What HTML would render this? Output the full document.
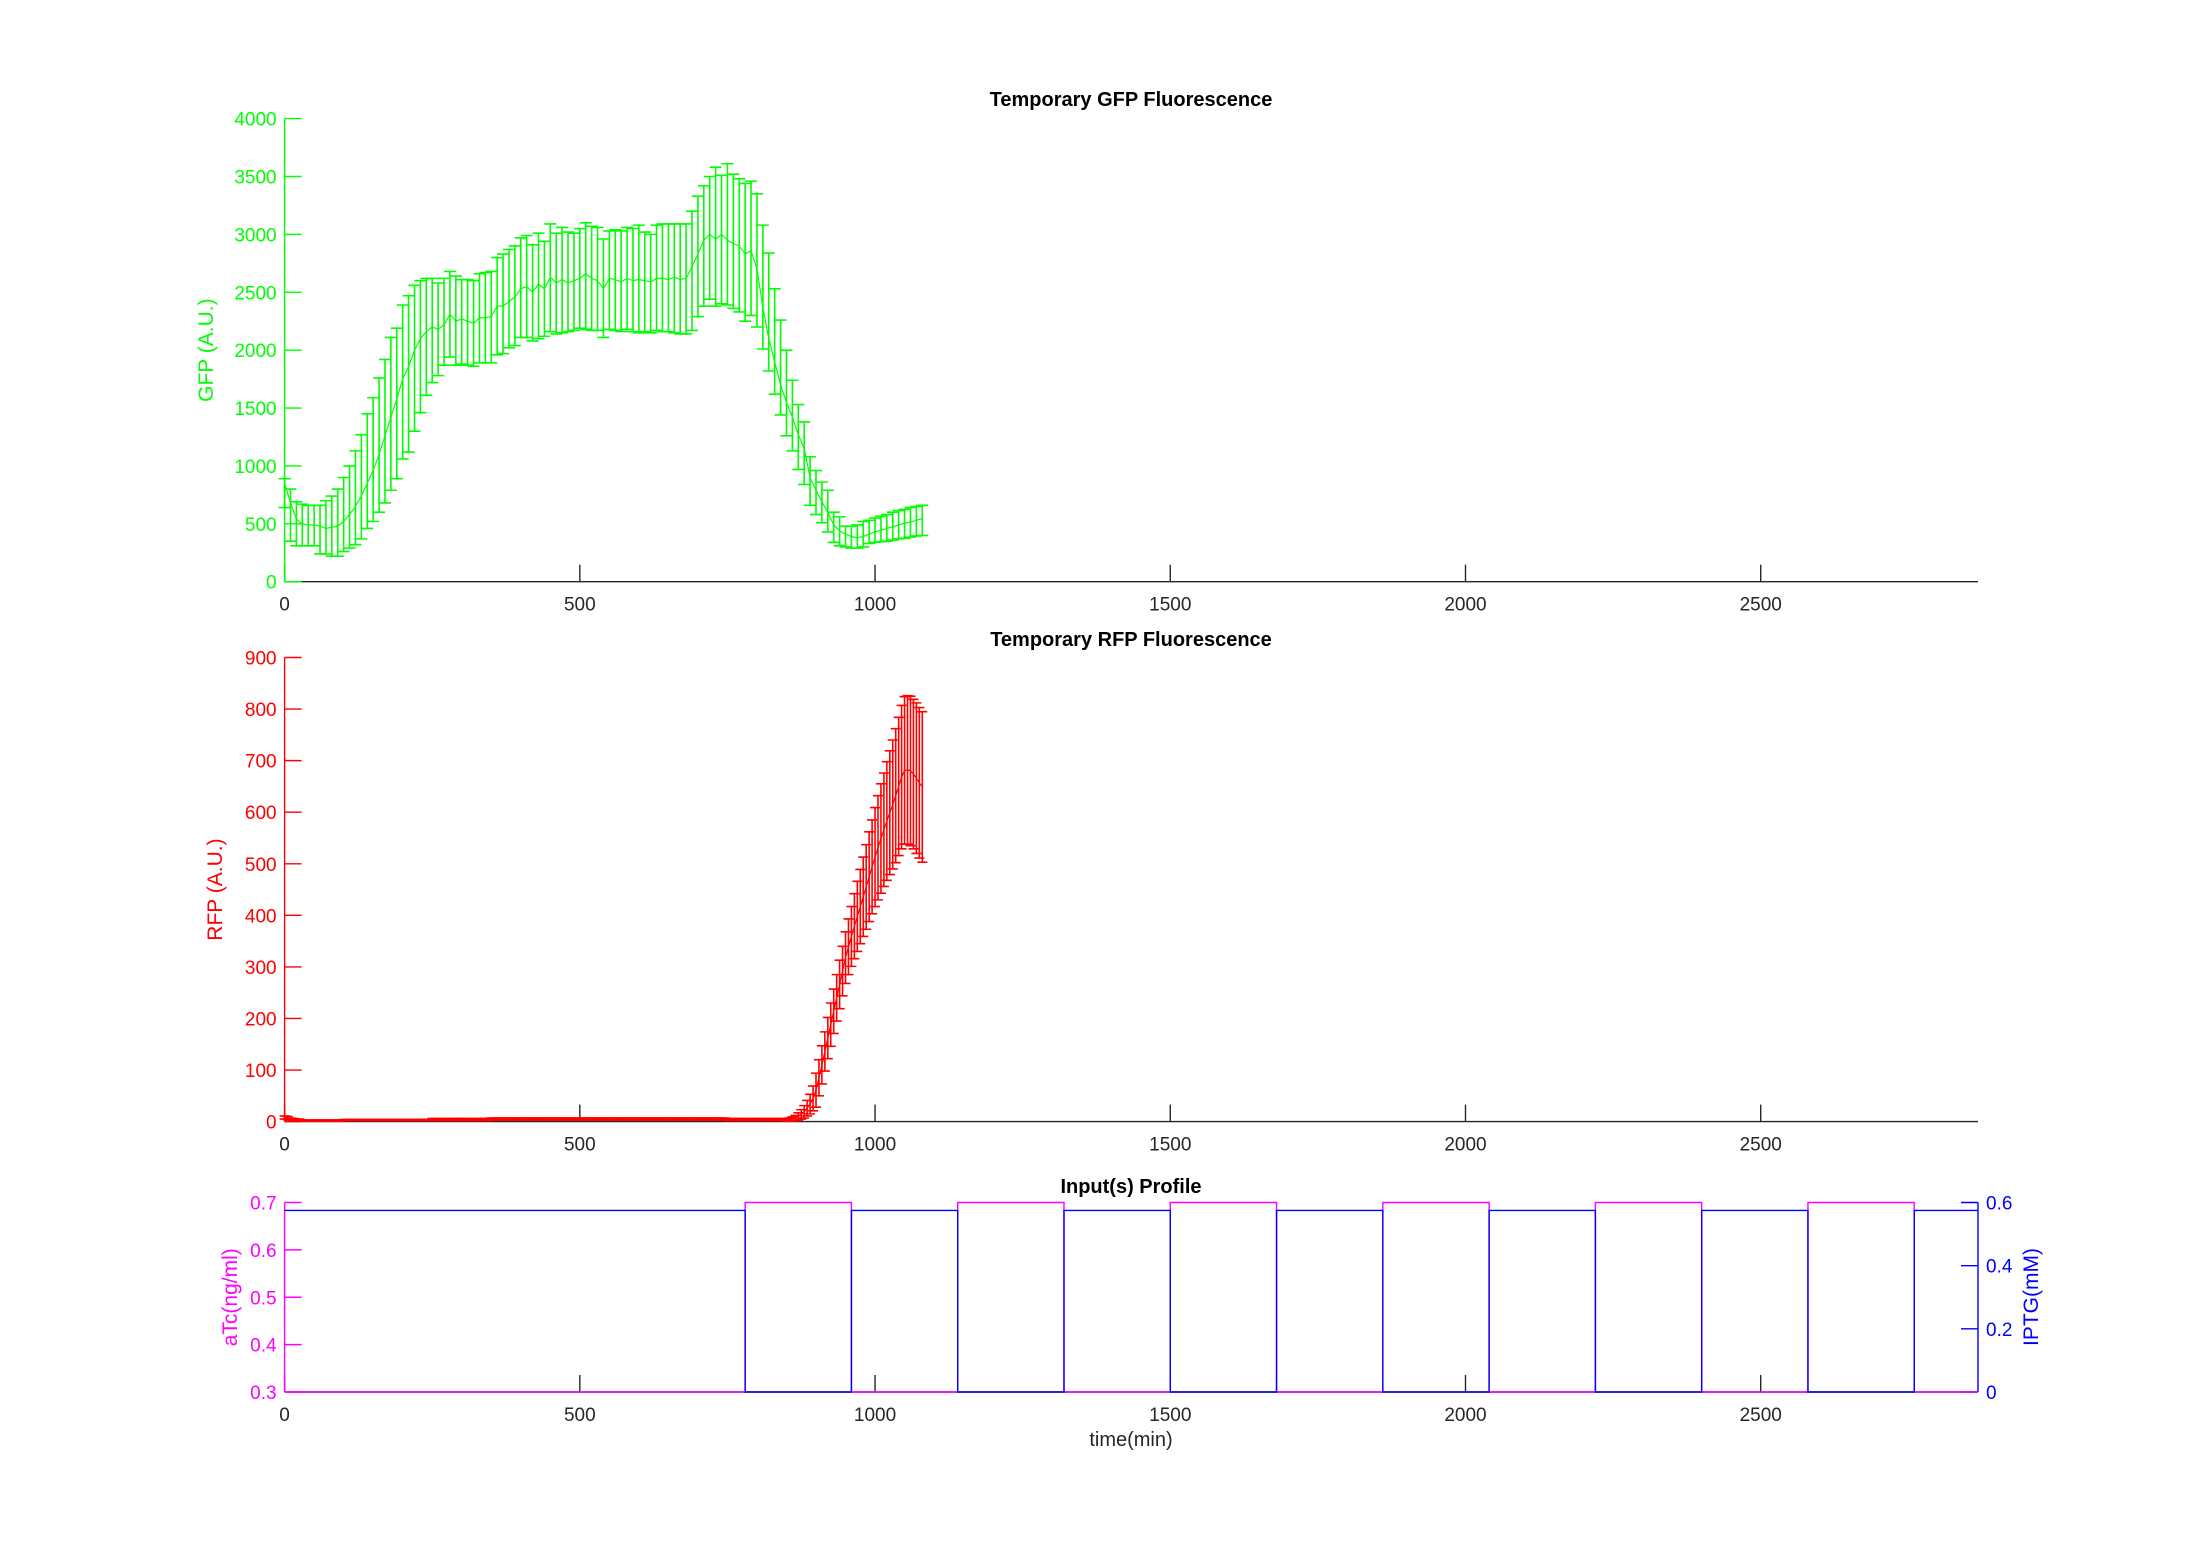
<!DOCTYPE html>
<html><head><meta charset="utf-8"><style>
html,body{margin:0;padding:0;background:#fff;}
svg{display:block;font-family:"Liberation Sans",Arial,sans-serif;}
</style></head><body>
<svg id="fig" width="2187" height="1563" viewBox="0 0 2187 1563" xmlns="http://www.w3.org/2000/svg">
<rect x="0" y="0" width="2187" height="1563" fill="#fff"/>
</svg>
<script>
const xTicks=[0,500,1000,1500,2000,2500];
const gfpYTicks=[0,500,1000,1500,2000,2500,3000,3500,4000];
const rfpYTicks=[0,100,200,300,400,500,600,700,800,900];
const atcTicks=[0.3,0.4,0.5,0.6,0.7];
const iptgTicks=[0,0.2,0.4,0.6];
const gfpStep=10;
const gfpMean=[850,680,540,500,490,490,480,460,470,480,520,580,650,740,850,960,1100,1260,1420,1580,1750,1860,2000,2100,2160,2200,2180,2220,2310,2250,2270,2250,2230,2280,2280,2290,2380,2380,2420,2460,2530,2550,2500,2570,2530,2630,2580,2610,2580,2600,2620,2660,2620,2600,2530,2620,
2610,2590,2620,2600,2610,
2600,2590,2620,2620,2610,2630,2610,2620,2720,2830,2950,3000,2960,3000,2950,2920,2900,2830,2860,2700,2370,2100,1900,1700,1550,1420,1270,1150,
900,790,690,600,
490,440,410,390,380,
390,410,430,445,460,475,490,505,515,530,545];
const gfpUpper=[890,800,690,670,660,660,660,700,740,800,900,1000,1130,1270,1450,1590,1760,1920,2110,2190,2390,2470,2560,2600,2620,2620,2580,2620,2680,2640,2610,2610,2600,2660,2670,2680,2800,2830,2870,2900,2970,2990,2910,3010,2940,3090,3010,3060,3020,3010,3050,3100,3070,3060,2960,3030,
3040,3030,3060,3050,3080,
3020,3000,3080,3090,3090,3090,3090,3090,3200,3330,3420,3500,3580,3510,3610,3520,3480,3440,3460,3350,3080,2840,2530,2260,2000,1740,1530,1380,
1080,960,860,790,
600,560,480,480,490,
520,530,550,565,580,600,615,625,640,650,660];
const gfpLower=[640,350,310,310,310,310,240,240,220,220,260,290,320,370,460,520,600,680,790,890,1060,1120,1300,1460,1610,1720,1780,1870,1940,1870,1880,1870,1860,1890,1890,1890,1960,1970,2020,2040,2110,2110,2080,2100,2120,2160,2140,2150,2160,2170,2190,2180,2170,2170,2110,2180,
2170,2160,2180,2160,2150,
2160,2150,2170,2160,2160,2150,2140,2140,2170,2290,2380,2440,2380,2400,2390,2360,2330,2250,2300,2200,2010,1820,1620,1440,1260,1130,970,840,
660,580,510,430,
340,310,300,290,290,
300,330,340,345,350,360,370,375,385,395,400];
const rfpStep=5;
const rfpMean=[8,7,5,4,3,3,2,2,2,2,2,2,2,2,2,2,2,2,2,2,3,3,3,3,3,3,3,3,3,3,3,3,3,3,3,3,3,3,3,3,3,3,3,3,3,3,3,3,3,3,4,4,4,4,4,4,4,4,4,4,4,4,4,4,4,4,4,4,4,4,5,5,5,5,5,5,5,5,5,5,5,5,5,5,5,5,5,5,5,5,5,5,5,5,5,5,5,5,5,5,5,5,5,5,5,5,5,5,5,5,5,5,5,5,5,5,5,5,5,5,5,5,5,5,5,5,5,5,5,5,5,5,5,5,5,5,5,5,5,5,5,5,5,5,5,5,5,5,5,5,4,4,4,4,4,4,4,4,4,4,4,4,4,4,4,4,4,4,4,4,
3,4,5,7,10,14,19,26,34,45,61,85,110,136,162,188,214,240,266,292,318,339,359,379,398,417,436,455,475,494,513,531,549,566,583,599,615,632,650,668,681,682,680,674,666,657,649];
const rfpErr=[3,3,2,2,2,2,1,1,1,1,1,1,1,1,1,1,1,1,1,1,1,1,1,1,1,1,1,1,1,1,1,1,1,1,1,1,1,1,1,1,1,1,1,1,1,1,1,1,1,1,2,2,2,2,2,2,2,2,2,2,2,2,2,2,2,2,2,2,2,2,2,2,2,2,2,2,2,2,2,2,2,2,2,2,2,2,2,2,2,2,2,2,2,2,2,2,2,2,2,2,2,2,2,2,2,2,2,2,2,2,2,2,2,2,2,2,2,2,2,2,2,2,2,2,2,2,2,2,2,2,2,2,2,2,2,2,2,2,2,2,2,2,2,2,2,2,2,2,2,2,2,2,2,2,2,2,2,2,2,2,2,2,2,2,2,2,2,2,2,2,
2,3,4,5,7,9,12,15,19,24,33,35,37,38,40,42,43,45,47,48,50,54,58,63,68,72,77,82,87,91,96,101,106,110,115,120,125,130,134,139,143,144,145,145,146,146,146];
const switchTimes=[0,780,960,1140,1320,1500,1680,1860,2040,2220,2400,2580,2760,2868];
const atcLevels=[0.3,0.7,0.3,0.7,0.3,0.7,0.3,0.7,0.3,0.7,0.3,0.7,0.3];
const iptgLevels=[0.575,0,0.575,0,0.575,0,0.575,0,0.575,0,0.575,0,0.575];

const NS="http://www.w3.org/2000/svg";
const svg=document.getElementById('fig');
function mk(tag,attrs,parent){const e=document.createElementNS(NS,tag);for(const k in attrs)e.setAttribute(k,attrs[k]);(parent||svg).appendChild(e);return e;}
const X0=284.6,X1=1978,XMAX=2868;
function xs(t){return X0+(t/XMAX)*(X1-X0);}
function mkY(v0,v1,p0,p1){return v=>p0+(v-v0)/(v1-v0)*(p1-p0);}
const gY=mkY(0,4000,581.7,118.6);
const rY=mkY(0,900,1121.6,657.5);
const aY=mkY(0.3,0.7,1392,1202.5);
const iY=mkY(0,0.6,1392,1202.5);

function txt(s,x,y,attrs,name){const t=mk('text',Object.assign({x:x,y:y},attrs));t.textContent=s;

return t;}

function axes(g,yFn,yTicks,color,yTop,yBot,title,titleY,ylabel,lx,fmt){
  const xl=mk('line',{x1:X0,y1:yBot,x2:X1,y2:yBot,stroke:'#262626','stroke-width':1.4},g);
  
  
  xTicks.forEach(t=>{
    const tk=mk('line',{x1:xs(t),y1:yBot,x2:xs(t),y2:yBot-17,stroke:'#262626','stroke-width':1.4},g);
    
    
    txt(String(t),xs(t),yBot+29,{'font-size':19,'text-anchor':'middle',fill:'#262626'},'x-tick-label');
  });
  const yl=mk('line',{x1:X0,y1:yTop,x2:X0,y2:yBot,stroke:color,'stroke-width':1.4},g);
  
  
  yTicks.forEach(v=>{
    const tk=mk('line',{x1:X0,y1:yFn(v),x2:X0+17,y2:yFn(v),stroke:color,'stroke-width':1.4},g);
    
    
    txt(fmt?fmt(v):String(v),X0-8,yFn(v)+7,{'font-size':19,'text-anchor':'end',fill:color},'y-tick-label');
  });
  txt(title,1131,titleY+7,{'font-size':20,'font-weight':'bold','text-anchor':'middle',fill:'#000'},'chart-title');
  const ly=(yTop+yBot)/2;
  txt(ylabel,lx,ly,{'font-size':21,'text-anchor':'middle',fill:color,transform:`rotate(-90 ${lx} ${ly})`},'y-axis-title');
}

const g1=mk('g',{});


axes(g1,gY,gfpYTicks,'#00ff00',118.6,581.7,'Temporary GFP Fluorescence',99,'GFP (A.U.)',213);
let d='';
gfpMean.forEach((m,i)=>{
  const x=xs(i*gfpStep);
  const bar=mk('path',{d:`M${x} ${gY(gfpUpper[i])}V${gY(gfpLower[i])}M${x-6} ${gY(gfpUpper[i])}H${x+6}M${x-6} ${gY(gfpLower[i])}H${x+6}`,stroke:'#00ff00','stroke-width':1.6,fill:'none'},g1);
  
  
  d+=(i?'L':'M')+x+' '+gY(m);
});
const gl=mk('path',{d:d,stroke:'#00ff00','stroke-width':1.2,fill:'none'},g1);



const g2=mk('g',{});


axes(g2,rY,rfpYTicks,'#ff0000',657.5,1121.6,'Temporary RFP Fluorescence',639,'RFP (A.U.)',222);
d='';
rfpMean.forEach((m,i)=>{
  const x=xs(i*rfpStep);
  const up=rY(m+rfpErr[i]),lo=rY(Math.max(0,m-rfpErr[i]));
  const bar=mk('path',{d:`M${x} ${up}V${lo}M${x-5} ${up}H${x+5}M${x-5} ${lo}H${x+5}`,stroke:'#ff0000','stroke-width':1.6,fill:'none'},g2);
  
  
  d+=(i?'L':'M')+x+' '+rY(m);
});
const rl=mk('path',{d:d,stroke:'#ff0000','stroke-width':1.2,fill:'none'},g2);



const g3=mk('g',{});


axes(g3,aY,atcTicks,'#ff00ff',1202.5,1392,'Input(s) Profile',1186,'aTc(ng/ml)',237,v=>v.toFixed(1));
const ra=mk('line',{x1:X1,y1:1202.5,x2:X1,y2:1392,stroke:'#0000ff','stroke-width':1.4},g3);


iptgTicks.forEach(v=>{
  const tk=mk('line',{x1:X1,y1:iY(v),x2:X1-17,y2:iY(v),stroke:'#0000ff','stroke-width':1.4},g3);
  
  
  txt(String(v),X1+8,iY(v)+7,{'font-size':19,'text-anchor':'start',fill:'#0000ff'},'right-y-tick-label');
});
txt('IPTG(mM)',2038,1297,{'font-size':21,'text-anchor':'middle',fill:'#0000ff',transform:'rotate(-90 2038 1297)'},'right-y-axis-title');
txt('time(min)',1131,1446,{'font-size':20,'text-anchor':'middle',fill:'#262626'},'x-axis-title');
let da='',di='';
atcLevels.forEach((v,i)=>{
  const xa=xs(switchTimes[i]),xb=xs(switchTimes[i+1]);
  da+=(i?'L':'M')+xa+' '+aY(v)+'L'+xb+' '+aY(v);
  di+=(i?'L':'M')+xa+' '+iY(iptgLevels[i])+'L'+xb+' '+iY(iptgLevels[i]);
});
const al=mk('path',{d:da,stroke:'#ff00ff','stroke-width':1.4,fill:'none'},g3);


const il=mk('path',{d:di,stroke:'#0000ff','stroke-width':1.4,fill:'none'},g3);


</script>
</body></html>
